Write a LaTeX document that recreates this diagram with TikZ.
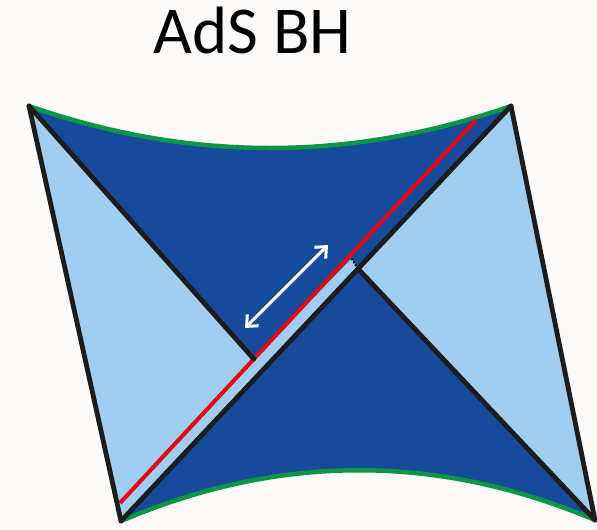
\documentclass[tikz,border=0pt]{standalone}
\usepackage{fontspec}
\setmainfont{Carlito}
\usetikzlibrary{arrows.meta}
\definecolor{bgcol}{RGB}{252,251,249}
\definecolor{dblue}{RGB}{23,74,154}
\definecolor{lblue}{RGB}{160,205,240}
\definecolor{edgegreen}{RGB}{12,150,70}
\definecolor{hred}{RGB}{227,6,19}
\definecolor{edgeblack}{RGB}{28,28,28}
\begin{document}
\begin{tikzpicture}[x=1pt,y=-1pt,
  edgeline/.style={draw=edgeblack,line width=4.8pt,line cap=round,line join=miter},
  bdryline/.style={draw=edgegreen,line width=4.5pt},
  redline/.style={draw=hred,line width=4pt},
  cutline/.style={draw=edgeblack,line width=2pt,dash pattern=on 2pt off 1.5pt},
  shiftarrow/.style={draw=white,line width=3pt,{Straight Barb[length=9pt,width=16pt,line width=3pt]}-{Straight Barb[length=9pt,width=16pt,line width=3pt]}},
  titletext/.style={font=\fontsize{67}{67}\selectfont,inner sep=0pt,anchor=base}]
\fill[bgcol] (0,0) rectangle (597,530);
\useasboundingbox (0,0) rectangle (597,530);
% corners and key points
\coordinate (TL) at (29,106);
\coordinate (TR) at (511,106);
\coordinate (BL) at (121,521);
\coordinate (BR) at (595,520);
\coordinate (A) at (358,268.8);
\coordinate (P1) at (253.8,359);
\coordinate (PT) at (351.5,258.5);
\coordinate (R0) at (120,503);
\coordinate (R1) at (476,120);
\coordinate (AR0) at (245,328);
\coordinate (AR1) at (328,245);
% regions
\fill[dblue] (TL) .. controls (189.7,162) and (350.3,162) .. (TR) -- (BR)
  .. controls (437,453.3) and (279,453.7) .. (BL) -- cycle;
\fill[lblue] (TL) -- (P1) -- (PT) -- (A) -- (BL) -- cycle;
\fill[lblue] (TR) -- (A) -- (BR) -- cycle;
% boundaries
\draw[bdryline] (TL) .. controls (189.7,162) and (350.3,162) .. (TR);
\draw[bdryline] (BL) .. controls (279,453.7) and (437,453.3) .. (BR);
\draw[redline] (R0) -- (R1);
\draw[edgeline] (TL) -- (BL);
\draw[edgeline] (TR) -- (BR);
\draw[edgeline] (TL) -- (P1);
\draw[edgeline] (TR) -- (BL);
\draw[edgeline] (BR) -- (A);
\draw[cutline] (PT) -- (A);
\draw[shiftarrow] (AR0) -- (AR1);
\node[titletext] (title) at (252.5,53.3) {AdS BH};
\end{tikzpicture}
\end{document}
